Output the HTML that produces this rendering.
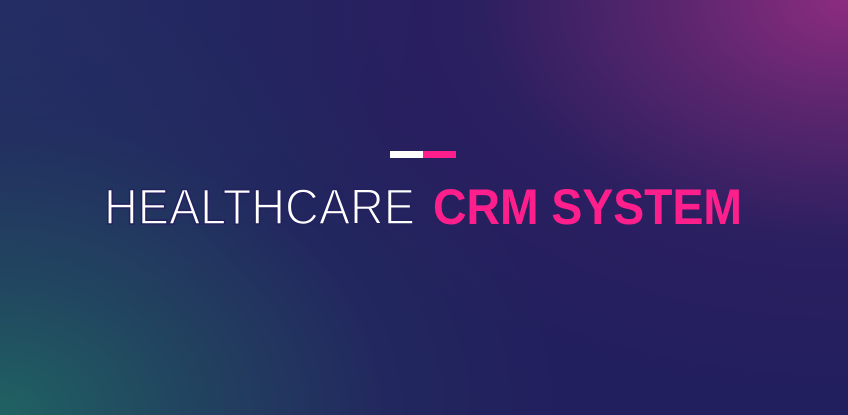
<!DOCTYPE html>
<html><head><meta charset="utf-8"><style>
html,body{margin:0;padding:0;}
body{width:848px;height:415px;overflow:hidden;position:relative;
background:
radial-gradient(ellipse 620px 400px at 848px 0px, rgba(140,44,128,1) 0%, rgba(110,40,115,0.75) 28%, rgba(60,32,100,0.35) 60%, rgba(35,32,95,0) 100%),
radial-gradient(ellipse 560px 420px at 0px 415px, rgba(32,98,98,1) 0%, rgba(33,82,96,0.7) 35%, rgba(34,58,96,0.3) 70%, rgba(34,40,96,0) 100%),
radial-gradient(ellipse 420px 320px at 0px 0px, rgba(36,46,100,1) 0%, rgba(34,34,96,0) 100%),
#221f5e;}
svg{position:absolute;left:0;top:0;}
</style></head><body>
<svg width="848" height="415">
<rect x="390" y="151" width="33" height="7" fill="#ffffff"/>
<rect x="423" y="151" width="33" height="7" fill="#ff1f8c"/>
<text x="104" y="224" font-family="Liberation Sans, sans-serif" font-size="50" fill="#ffffff" stroke="#22215e" stroke-width="1.6" textLength="311" lengthAdjust="spacingAndGlyphs">HEALTHCARE</text>
<text x="433" y="224" font-family="Liberation Sans, sans-serif" font-size="50" font-weight="bold" fill="#ff1f8c" textLength="309" lengthAdjust="spacingAndGlyphs">CRM SYSTEM</text>
</svg>
</body></html>
